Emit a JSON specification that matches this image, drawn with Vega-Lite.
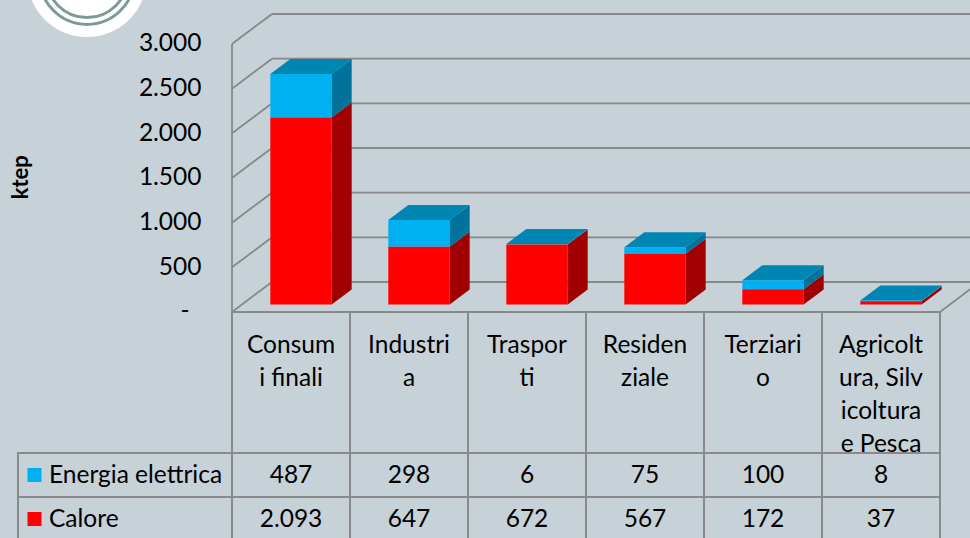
{
  "$schema": "https://vega.github.io/schema/vega-lite/v6.json",
  "width": 970,
  "height": 538,
  "autosize": "none",
  "padding": 0,
  "background": "#c6d1d8",
  "config": {"view": {"stroke": null}, "font": "Lato"},
  "datasets": {
    "vals": [
      {"cat": "Consumi finali", "serie": "Energia elettrica", "value": 487},
      {"cat": "Consumi finali", "serie": "Calore", "value": 2093},
      {"cat": "Industria", "serie": "Energia elettrica", "value": 298},
      {"cat": "Industria", "serie": "Calore", "value": 647},
      {"cat": "Trasporti", "serie": "Energia elettrica", "value": 6},
      {"cat": "Trasporti", "serie": "Calore", "value": 672},
      {"cat": "Residenziale", "serie": "Energia elettrica", "value": 75},
      {"cat": "Residenziale", "serie": "Calore", "value": 567},
      {"cat": "Terziario", "serie": "Energia elettrica", "value": 100},
      {"cat": "Terziario", "serie": "Calore", "value": 172},
      {"cat": "Agricoltura, Silvicoltura e Pesca", "serie": "Energia elettrica", "value": 8},
      {"cat": "Agricoltura, Silvicoltura e Pesca", "serie": "Calore", "value": 37}
    ],
    "cats": [
      {"cat": "Consumi finali", "label": "Consum\ni finali"},
      {"cat": "Industria", "label": "Industri\na"},
      {"cat": "Trasporti", "label": "Traspor\nti"},
      {"cat": "Residenziale", "label": "Residen\nziale"},
      {"cat": "Terziario", "label": "Terziari\no"},
      {"cat": "Agricoltura, Silvicoltura e Pesca", "label": "Agricolt\nura, Silv\nicoltura\ne Pesca"}
    ],
    "ticks": [{"t": 0}, {"t": 500}, {"t": 1000}, {"t": 1500}, {"t": 2000}, {"t": 2500}, {"t": 3000}]
  },
  "layer": [
    {
      "layer": [
        {
          "data": {"values": [{}]},
          "layer": [
            {
              "mark": {"type": "point", "shape": "circle", "filled": true, "color": "#ffffff", "opacity": 1, "size": 14400},
              "encoding": {
                "x": {"datum": -1.2288, "type": "quantitative", "scale": {"domain": [-1.9661, 6.2542], "nice": false, "zero": false}, "axis": null},
                "y": {"datum": 3750, "type": "quantitative", "scale": {"domain": [-2529.9, 3492.5], "nice": false, "zero": false},
                  "axis": {
                    "values": [0, 500, 1000, 1500, 2000, 2500, 3000],
                    "labelExpr": "datum.value == 0 ? '-' : replace(format(datum.value, ','), ',', '.')",
                    "domain": false, "ticks": false, "tickSize": 0, "grid": false,
                    "labelPadding": {"condition": {"test": "datum.value == 0", "value": 12}, "value": 0},
                    "offset": -201, "labelFont": "Lato", "labelFontSize": 24.5,
                    "labelColor": "#000000", "labelFlush": false, "labelOverlap": false,
                    "title": "ktep", "titleFont": "Lato", "titleFontSize": 22, "titleFontWeight": "bold",
                    "titleColor": "#000000", "titleX": -180.5, "titleY": 176.7, "titleAngle": -90,
                    "titleAlign": "center", "titleBaseline": "middle"
                  }
                }
              }
            },
            {
              "mark": {"type": "point", "shape": "circle", "filled": false, "stroke": "#7e9a96", "strokeWidth": 3, "opacity": 1, "size": 8987},
              "encoding": {
                "x": {"datum": -1.2288, "type": "quantitative", "axis": null},
                "y": {"datum": 3750, "type": "quantitative"}
              }
            },
            {
              "mark": {"type": "point", "shape": "circle", "filled": false, "stroke": "#7e9a96", "strokeWidth": 3, "opacity": 1, "size": 6593},
              "encoding": {
                "x": {"datum": -1.2288, "type": "quantitative", "axis": null},
                "y": {"datum": 3750, "type": "quantitative"}
              }
            },
            {
              "mark": {"type": "rule", "color": "#888888", "strokeWidth": 1.8},
              "encoding": {
                "x": {"datum": 0, "type": "quantitative", "axis": null},
                "y": {"datum": 0, "type": "quantitative"},
                "y2": {"datum": 3000}
              }
            },
            {
              "mark": {"type": "rule", "color": "#888888", "strokeWidth": 1.8},
              "encoding": {
                "x": {"datum": 6, "type": "quantitative", "axis": null},
                "x2": {"datum": 6.33898},
                "y": {"datum": 0, "type": "quantitative"},
                "y2": {"datum": 335.82}
              }
            }
          ]
        },
        {
          "data": {"name": "ticks"},
          "transform": [{"calculate": "datum.t + 335.82", "as": "tb"}],
          "layer": [
            {
              "mark": {"type": "rule", "color": "#888888", "strokeWidth": 1.8},
              "encoding": {
                "x": {"datum": 0.33898, "type": "quantitative", "axis": null},
                "x2": {"datum": 6.6},
                "y": {"field": "tb", "type": "quantitative"}
              }
            },
            {
              "mark": {"type": "rule", "color": "#888888", "strokeWidth": 1.8},
              "encoding": {
                "x": {"datum": 0, "type": "quantitative", "axis": null},
                "x2": {"datum": 0.33898},
                "y": {"field": "t", "type": "quantitative"},
                "y2": {"field": "tb"}
              }
            }
          ]
        },
        {
          "data": {"name": "vals"},
          "transform": [
            {"stack": "value", "groupby": ["cat"], "sort": [{"field": "serie", "order": "ascending"}], "as": ["v0", "v1"]},
            {"calculate": "indexof(['Consumi finali','Industria','Trasporti','Residenziale','Terziario','Agricoltura, Silvicoltura e Pesca'], datum.cat)", "as": "idx"},
            {"calculate": "[0, 1]", "as": "k"},
            {"flatten": ["k"]},
            {"calculate": "datum.idx + 0.324746 + datum.k * 0.16949", "as": "ax0"},
            {"calculate": "datum.idx + 0.844746 + datum.k * 0.16949", "as": "ax1"},
            {"calculate": "datum.v0 + 83.955 + datum.k * 167.91", "as": "ay0"},
            {"calculate": "datum.v1 + 83.955 + datum.k * 167.91", "as": "ay1"}
          ],
          "layer": [
            {
              "transform": [{"filter": "datum.k == 0"}],
              "mark": {"type": "rect"},
              "encoding": {
                "x": {"field": "ax0", "type": "quantitative", "axis": null},
                "x2": {"field": "ax1"},
                "y": {"field": "ay0", "type": "quantitative", "stack": null},
                "y2": {"field": "ay1"},
                "color": {"field": "serie", "type": "nominal", "scale": {"domain": ["Energia elettrica", "Calore"], "range": ["#00b0f0", "#ff0000"]}, "legend": null}
              }
            },
            {
              "transform": [{"filter": "datum.serie == 'Calore'"}],
              "mark": {"type": "area", "orient": "vertical", "color": "#a00000"},
              "encoding": {
                "x": {"field": "ax1", "type": "quantitative", "axis": null},
                "y": {"field": "ay1", "type": "quantitative", "stack": null},
                "y2": {"field": "ay0"},
                "detail": {"field": "cat"}
              }
            },
            {
              "transform": [{"filter": "datum.serie == 'Energia elettrica'"}],
              "mark": {"type": "area", "orient": "vertical", "color": "#00729b"},
              "encoding": {
                "x": {"field": "ax1", "type": "quantitative", "axis": null},
                "y": {"field": "ay1", "type": "quantitative", "stack": null},
                "y2": {"field": "ay0"},
                "detail": {"field": "cat"}
              }
            },
            {
              "transform": [{"filter": "datum.serie == 'Energia elettrica'"}],
              "mark": {"type": "area", "orient": "horizontal", "color": "#0086b3"},
              "encoding": {
                "y": {"field": "ay1", "type": "quantitative"},
                "x": {"field": "ax0", "type": "quantitative", "axis": null, "stack": null},
                "x2": {"field": "ax1"},
                "detail": {"field": "cat"}
              }
            }
          ]
        }
      ]
    },
    {
      "layer": [
        {
          "data": {"name": "vals"},
          "transform": [
            {"calculate": "indexof(['Consumi finali','Industria','Trasporti','Residenziale','Terziario','Agricoltura, Silvicoltura e Pesca'], datum.cat)", "as": "idx"},
            {"calculate": "datum.idx + 1", "as": "idx1"},
            {"calculate": "datum.idx + 0.5", "as": "xc"},
            {"calculate": "datum.serie == 'Energia elettrica' ? 0 : 1", "as": "row"},
            {"calculate": "datum.row + 1", "as": "row1"},
            {"calculate": "datum.row + 0.5", "as": "rc"},
            {"calculate": "datum.row + 0.69", "as": "rb"},
            {"calculate": "replace(format(datum.value, ','), ',', '.')", "as": "txt"}
          ],
          "layer": [
            {
              "mark": {"type": "rect", "filled": false, "color": "#8a8a8a", "strokeWidth": 2},
              "encoding": {
                "x": {"field": "idx", "type": "quantitative", "axis": null},
                "x2": {"field": "idx1"},
                "y": {"field": "row", "type": "quantitative", "scale": {"domain": [-10.295, 1.9318], "reverse": true, "nice": false, "zero": false}, "axis": null},
                "y2": {"field": "row1"}
              }
            },
            {
              "transform": [{"filter": "datum.row == 0"}],
              "mark": {"type": "rect", "filled": false, "color": "#8a8a8a", "strokeWidth": 2},
              "encoding": {
                "x": {"field": "idx", "type": "quantitative", "axis": null},
                "x2": {"field": "idx1"},
                "y": {"datum": -3.2045, "type": "quantitative", "axis": null},
                "y2": {"datum": 0}
              }
            },
            {
              "transform": [{"filter": "datum.idx == 0"}],
              "mark": {"type": "rect", "filled": false, "color": "#8a8a8a", "strokeWidth": 2},
              "encoding": {
                "x": {"datum": -1.8136, "type": "quantitative", "axis": null},
                "x2": {"datum": 0},
                "y": {"field": "row", "type": "quantitative", "axis": null},
                "y2": {"field": "row1"}
              }
            },
            {
              "transform": [{"filter": "datum.idx == 0"}],
              "mark": {"type": "point", "shape": "square", "filled": true, "opacity": 1, "size": 196},
              "encoding": {
                "x": {"datum": -1.6737, "type": "quantitative", "axis": null},
                "y": {"field": "rc", "type": "quantitative", "axis": null},
                "color": {"field": "serie", "type": "nominal", "scale": {"domain": ["Energia elettrica", "Calore"], "range": ["#00b0f0", "#ff0000"]}, "legend": null}
              }
            },
            {
              "transform": [{"filter": "datum.idx == 0"}],
              "mark": {"type": "text", "align": "left", "baseline": "alphabetic", "font": "Lato", "fontSize": 24.5, "color": "#000000"},
              "encoding": {
                "x": {"datum": -1.5508, "type": "quantitative", "axis": null},
                "y": {"field": "rb", "type": "quantitative", "axis": null},
                "text": {"field": "serie"}
              }
            },
            {
              "mark": {"type": "text", "align": "center", "baseline": "alphabetic", "font": "Lato", "fontSize": 24.5, "color": "#000000"},
              "encoding": {
                "x": {"field": "xc", "type": "quantitative", "axis": null},
                "y": {"field": "rb", "type": "quantitative", "axis": null},
                "text": {"field": "txt"}
              }
            }
          ]
        },
        {
          "data": {"name": "cats"},
          "transform": [
            {"calculate": "indexof(['Consumi finali','Industria','Trasporti','Residenziale','Terziario','Agricoltura, Silvicoltura e Pesca'], datum.cat)", "as": "idx"},
            {"calculate": "datum.idx + 0.5", "as": "xc"}
          ],
          "mark": {"type": "text", "align": "center", "baseline": "alphabetic", "lineBreak": "\n", "lineHeight": 33, "font": "Lato", "fontSize": 24.5, "color": "#000000"},
          "encoding": {
            "x": {"field": "xc", "type": "quantitative", "axis": null},
            "y": {"datum": -2.2727, "type": "quantitative", "axis": null},
            "text": {"field": "label"}
          }
        }
      ]
    }
  ],
  "resolve": {"scale": {"y": "independent"}, "axis": {"y": "independent"}}
}
